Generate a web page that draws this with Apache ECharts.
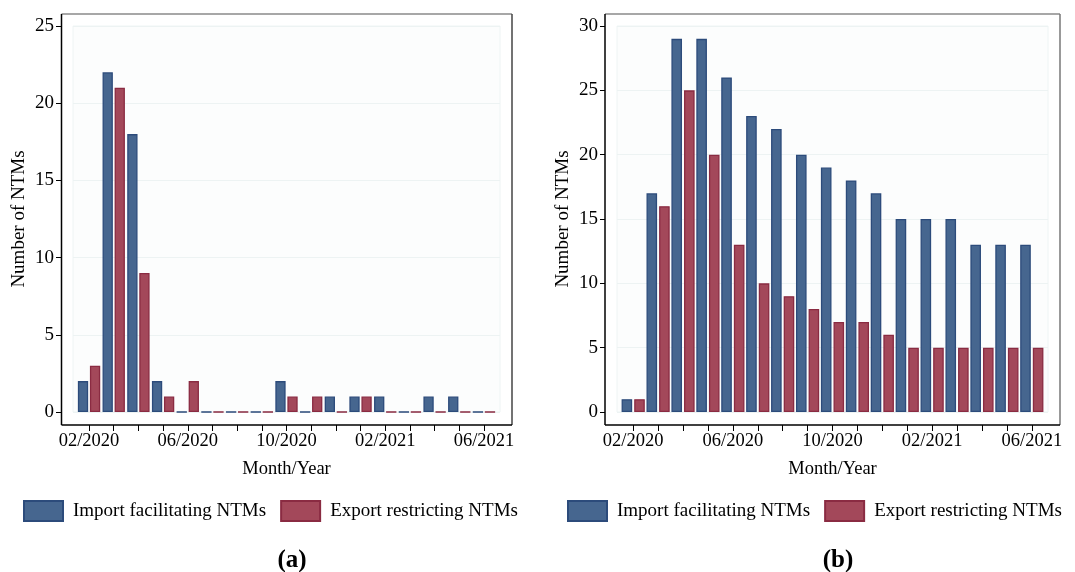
<!DOCTYPE html>
<html>
<head>
<meta charset="utf-8">
<script src="https://cdn.jsdelivr.net/npm/echarts@6/dist/echarts.min.js"></script>
<style>
html,body{margin:0;padding:0;background:#fff;}
#chart{width:1075px;height:572px;}
</style>
</head>
<body>
<div id="chart"></div>
<script>
// Months (x categories), index 0 = 02/2020 ... 16 = 06/2021
const months = ['02/2020','03/2020','04/2020','05/2020','06/2020','07/2020','08/2020','09/2020','10/2020','11/2020','12/2020','01/2021','02/2021','03/2021','04/2021','05/2021','06/2021'];
const labelledMonths = [0, 4, 8, 12, 16];

// Panel (a)
const importA = [2, 22, 18, 2, 0, 0, 0, 0, 2, 0, 1, 1, 1, 0, 1, 1, 0];
const exportA = [3, 21, 9, 1, 2, 0, 0, 0, 1, 1, 0, 1, 0, 0, 0, 0, 0];
// Panel (b)
const importB = [1, 17, 29, 29, 26, 23, 22, 20, 19, 18, 17, 15, 15, 15, 13, 13, 13];
const exportB = [1, 16, 25, 20, 13, 10, 9, 8, 7, 7, 6, 5, 5, 5, 5, 5, 5];

const yTicksA = [0, 5, 10, 15, 20, 25];
const yTicksB = [0, 5, 10, 15, 20, 25, 30];

const seriesNames = ['Import facilitating NTMs', 'Export restricting NTMs'];
const panelLabels = ['(a)', '(b)'];

const FONT = '"Liberation Serif", "DejaVu Serif", serif';
const BLUE = '#46668f', BLUE_B = '#2c4b7b';
const RED = '#a3485a', RED_B = '#8a2b42';

const monthIdx = months.map((m, i) => i);
const pairs = arr => arr.map((v, i) => [i, v]);

function xAxis(gi) {
  return {
    type: 'value', gridIndex: gi, min: -0.65, max: 16.65, offset: 13,
    axisLine: {show: false, onZero: false},
    axisTick: {show: true, customValues: monthIdx, length: 6, lineStyle: {color: '#000', width: 1}},
    axisLabel: {customValues: labelledMonths, formatter: v => months[Math.round(v)], color: '#000',
      fontFamily: FONT, fontSize: 18.5, margin: 7},
    splitLine: {show: false},
    name: 'Month/Year', nameLocation: 'middle', nameGap: 35,
    nameTextStyle: {color: '#000', fontFamily: FONT, fontSize: 18.5}
  };
}
function yAxis(gi, ticks) {
  return {
    type: 'value', gridIndex: gi, min: ticks[0], max: ticks[ticks.length - 1], interval: ticks[1] - ticks[0], offset: 12,
    axisLine: {show: false, onZero: false},
    axisTick: {show: true, length: 5, lineStyle: {color: '#000', width: 1}},
    axisLabel: {color: '#000', fontFamily: FONT, fontSize: 19, margin: 7},
    splitLine: {show: true, lineStyle: {color: '#edf3f3', width: 1}},
    name: 'Number of NTMs', nameLocation: 'middle', nameGap: 32,
    nameTextStyle: {color: '#000', fontFamily: FONT, fontSize: 19}
  };
}
function bar(name, data, gi, color, border, width, gap) {
  return {
    type: 'bar', name: name, xAxisIndex: gi, yAxisIndex: gi, data: pairs(data),
    barWidth: width, barGap: gap,
    itemStyle: {color: color, borderColor: border, borderWidth: 1.3},
    emphasis: {disabled: true}, animation: false
  };
}
function legend(left) {
  return {
    left: left, top: 500, padding: 0, itemWidth: 39, itemHeight: 20, itemGap: 14, icon: 'rect',
    data: seriesNames,
    textStyle: {color: '#000', fontFamily: FONT, fontSize: 19, padding: [0, 0, 0, 5]},
    selectedMode: false
  };
}
function frame(x1, x2, y1, y2, rightColor) {
  return [
    {type: 'line', shape: {x1: x1, y1: y1, x2: x2, y2: y1}, style: {stroke: '#8a8a8a', lineWidth: 1.5}},
    {type: 'line', shape: {x1: x2, y1: y1, x2: x2, y2: y2}, style: {stroke: rightColor, lineWidth: 1.5}},
    {type: 'line', shape: {x1: x1, y1: y1, x2: x1, y2: y2}, style: {stroke: '#000', lineWidth: 1.5}},
    {type: 'line', shape: {x1: x1, y1: y2, x2: x2, y2: y2}, style: {stroke: '#000', lineWidth: 1.5}}
  ];
}

const chart = echarts.init(document.getElementById('chart'), null, {renderer: 'canvas'});
chart.setOption({
  backgroundColor: '#fff',
  animation: false,
  grid: [
    {left: 73, top: 26, width: 427, height: 386, show: true, backgroundColor: '#fcfdfd', borderColor: '#eef4f4', borderWidth: 1},
    {left: 617, top: 26, width: 431, height: 386, show: true, backgroundColor: '#fcfdfd', borderColor: '#eef4f4', borderWidth: 1}
  ],
  xAxis: [xAxis(0), xAxis(1)],
  yAxis: [yAxis(0, yTicksA), yAxis(1, yTicksB)],
  legend: [legend(23), legend(567)],
  series: [
    bar(seriesNames[0], importA, 0, BLUE, BLUE_B, 10.3, '17%'),
    bar(seriesNames[1], exportA, 0, RED, RED_B, 10.3, '17%'),
    bar(seriesNames[0], importB, 1, BLUE, BLUE_B, 10.6, '19%'),
    bar(seriesNames[1], exportB, 1, RED, RED_B, 10.6, '19%')
  ],
  graphic: [].concat(
    frame(61.5, 512, 14, 425, '#444'),
    frame(605, 1060, 14, 425, '#777'),
    [
      {type: 'text', x: 292, y: 561, style: {text: panelLabels[0], fill: '#000', font: 'bold 25px ' + FONT, textAlign: 'center', textVerticalAlign: 'middle'}},
      {type: 'text', x: 838, y: 561, style: {text: panelLabels[1], fill: '#000', font: 'bold 25px ' + FONT, textAlign: 'center', textVerticalAlign: 'middle'}}
    ]
  )
});
</script>
</body>
</html>
